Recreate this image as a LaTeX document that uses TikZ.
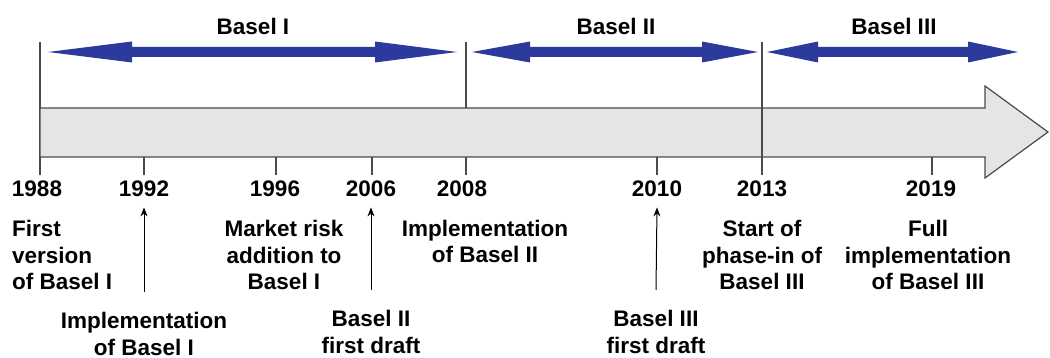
\documentclass[tikz,border=0pt]{standalone}
\usepackage{fontspec}
\setmainfont{Liberation Sans}
\usetikzlibrary{arrows.meta,positioning}
\definecolor{cEra}{HTML}{2B3A9C}
\definecolor{cBar}{HTML}{E3E5E7}
\definecolor{cLine}{HTML}{4A4A4A}
\tikzset{
  >={Stealth[length=9pt,width=7pt]},
  lbl/.style   ={font=\bfseries\fontsize{22.5}{26.5}\selectfont,inner sep=0pt,align=center,anchor=base},
  year/.style  ={lbl},
  bar/.style   ={fill=cBar,draw=cLine,line width=1.2pt},
  bound/.style ={cLine,line width=1.3pt},
  pointer/.style={->,black,line width=1pt},
}
% era arrow: left tip, right tip, left head, right head
\newcommand{\eraarrow}[4]{%
  \fill[cEra] (#1,52) -- (#1+#3,41.5) -- (#1+#3,47) -- (#2-#4,47) -- (#2-#4,41.5)
    -- (#2,52) -- (#2-#4,62.5) -- (#2-#4,57) -- (#1+#3,57) -- (#1+#3,62.5) -- cycle;}

\begin{document}
\begin{tikzpicture}[x=1pt,y=-1pt]
  \useasboundingbox (0,0) rectangle (1050,358);

  % era boundaries
  \draw[bound] (40,42) -- (40,175);
  \draw[bound] (466,42) -- (466,175);

  % time bar
  \draw[bar] (40,108) -- (985,108) -- (985,86) -- (1048,132) -- (985,178)
    -- (985,157) -- (40,157) -- cycle;
  \draw[bound] (762,42) -- (762,175);
  \draw[bound] (466,157) -- (466,175);
  \foreach \x in {144,276,372,657,932}
    \draw[bound] (\x,157) -- (\x,175);

  % eras
  \eraarrow{48}{457}{84}{82}
  \eraarrow{472}{758}{58}{56}
  \eraarrow{767}{1018}{51}{50}
  \node[lbl] (basel1) at (253,35) {Basel I};
  \node[lbl] (basel2) at (616,35) {Basel II};
  \node[lbl] (basel3) at (894,35) {Basel III};

  % years
  \node[year] (y1988) at (37,197) {1988};
  \node[year] (y1992) at (144,197) {1992};
  \node[year] (y1996) at (275,197) {1996};
  \node[year] (y2006) at (371,197) {2006};
  \node[year] (y2008) at (462,197) {2008};
  \node[year] (y2010) at (657,197) {2010};
  \node[year] (y2013) at (762,197) {2013};
  \node[year] (y2019) at (931,197) {2019};

  % events (base = last line)
  \node[lbl,align=left,anchor=base west] (e1988) at (12,290) {First\\version\\of Basel I};
  \node[lbl] (e1992) at (144,355) {Implementation\\of Basel I};
  \node[lbl] (e1996) at (284,290) {Market risk\\addition to\\Basel I};
  \node[lbl] (e2006) at (371,353) {Basel II\\first draft};
  \node[lbl] (e2008) at (485,263) {Implementation\\of Basel II};
  \node[lbl] (e2010) at (656,353) {Basel III\\first draft};
  \node[lbl] (e2013) at (762,290) {Start of\\phase-in of\\Basel III};
  \node[lbl] (e2019) at (928,290) {Full\\implementation\\of Basel III};

  \draw[pointer] ([yshift=20pt]e1992.north) -- ([yshift=-10pt]y1992.south);
  \draw[pointer] ([yshift=20pt]e2006.north) -- ([yshift=-10pt]y2006.south);
  \draw[pointer] ([yshift=20pt]e2010.north) -- ([yshift=-10pt]y2010.south);
\end{tikzpicture}
\end{document}
